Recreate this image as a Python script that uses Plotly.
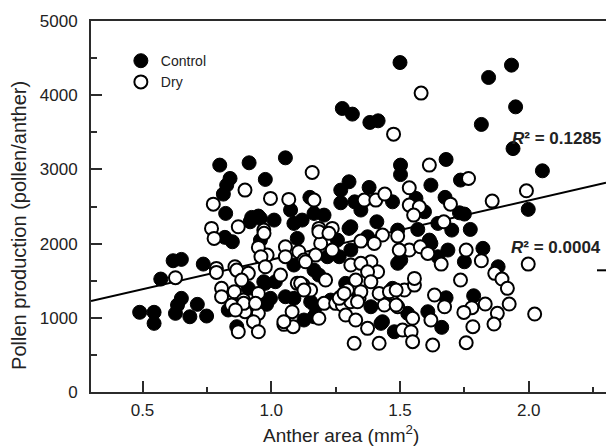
import plotly.graph_objects as go

# ---------------- data ----------------
control_x = [1.50, 1.276, 1.315, 1.383, 1.415, 1.933, 1.844, 1.949, 1.816, 1.939,
             1.679, 2.053, 1.998, 1.62, 1.735, 1.675, 1.731, 1.75, 1.647, 1.701,
             1.773, 1.62, 1.686, 1.822, 1.647, 1.75, 1.881,
             1.679, 1.786, 1.662,
             1.055, 1.502, 1.502, 0.977, 1.302, 1.270, 1.38, 1.075, 1.15, 1.270,
             1.324, 1.348, 1.471, 1.562, 1.595, 0.958, 1.011, 1.088, 1.12, 1.166,
             1.205, 1.302, 1.41, 1.491, 1.569, 0.958, 1.101, 1.374, 1.614, 1.257,
             1.309, 1.218, 1.491, 1.088,
             0.971, 0.997, 1.055, 1.088, 1.185, 1.166, 1.172, 1.231, 1.426, 1.289,
             1.387, 1.471, 1.53, 1.478, 1.608,
             0.80, 0.914, 0.84, 0.827, 0.814, 0.823, 0.924, 0.95, 0.918, 0.82,
             0.849, 0.619, 0.651, 0.736,
             0.571, 0.651, 0.713, 0.489, 0.545, 0.545, 0.628, 0.636, 0.684, 0.749,
             0.833, 0.911, 0.976, 0.982, 0.866,
             1.309, 1.166, 1.264, 1.016, 1.153, 1.127, 0.984, 1.432, 1.503]
control_y = [4440, 3821, 3745, 3633, 3655, 4405, 4239, 3843, 3606, 3280,
             3134, 2981, 2461, 2788, 2856, 2623, 2415, 2398, 2272, 2182,
             2191, 2003, 1913, 1936, 1823, 1755, 1688,
             1270, 1297, 871,
             3156, 3058, 2930, 2865, 2833, 2721, 2757, 2452, 2623, 2550,
             2563, 2452, 2563, 2609, 2429, 2340, 2317, 2272, 2317, 2407,
             2384, 2205, 2294, 2182, 2191, 2047, 2070, 2092, 2047, 2047,
             1913, 1823, 1734, 1711,
             1486, 1262, 1284, 1262, 1576, 1014, 1149, 1239, 925, 1464,
             1149, 1397, 1060, 812, 1082,
             3058, 3089, 2878, 2788, 2667, 2407, 2353, 2371, 2294, 2084,
             2025, 1769, 1787, 1724,
             1522, 1262, 1181, 1074, 1074, 925, 1060, 1172, 1014, 1024,
             1105, 1397, 1464, 1181, 880,
             2227, 1643, 1823, 1486, 1216, 970, 1239, 947, 1778]

dry_x = [1.582, 1.475,
         1.614, 1.991, 1.858, 1.766, 1.696, 1.67, 1.757, 1.816, 1.66, 1.998,
         1.868, 1.896, 1.917, 1.735, 1.634, 1.673, 1.779, 1.748, 1.831, 1.924,
         1.878, 1.865, 1.783, 2.023, 1.62, 1.627, 1.757,
         1.159, 1.536, 0.997, 1.068, 1.166, 1.361, 1.406, 1.441, 1.536, 1.575,
         1.553, 0.971, 1.185, 1.237, 1.432, 1.491, 1.348, 1.4, 1.536, 1.579,
         1.608, 1.055, 1.107, 1.192, 1.237, 1.055, 0.984, 1.127, 1.172, 1.309,
         1.387, 1.348,
         1.036, 1.101, 1.124, 1.153, 1.211, 1.081, 1.049, 1.085, 1.185, 1.205,
         1.25, 1.276, 1.309, 1.27, 1.341, 1.289, 1.328, 1.374, 1.322, 1.419,
         1.328, 1.296, 1.348, 1.439, 1.419, 1.471, 1.491, 1.517, 1.556, 1.556,
         1.549, 1.51, 1.543, 1.549,
         0.898, 0.775, 0.872, 0.768, 0.778, 0.95, 0.96, 0.787, 0.859,
         0.628, 0.787, 0.807, 0.807, 0.866, 0.911, 0.885, 0.857, 0.892, 0.846,
         0.898, 0.95, 0.95, 0.931, 0.95, 0.872,
         0.972, 1.185, 1.224, 0.977, 1.133, 1.497, 1.413, 1.374, 0.893, 0.939,
         0.861, 1.049, 1.114, 1.127, 1.264, 1.283, 1.335, 1.387, 1.459, 1.485,
         1.485]
dry_y = [4028, 3475,
         3058, 2712, 2573, 2878, 2532, 2294, 1913, 1769, 1724, 1724,
         1599, 1522, 1397, 1509, 1307, 1149, 1136, 1073, 1185, 1185,
         1060, 916, 880, 1051, 970, 633, 664,
         2959, 2752, 2609, 2596, 2586, 2586, 2586, 2667, 2519, 2496,
         2384, 2182, 2205, 2205, 2115, 2101, 2034, 2003, 1913, 1957,
         1868, 1957, 1890, 2003, 1913, 1823, 1845, 1778, 1845, 1711,
         1755, 1734,
         1576, 1464, 1441, 1374, 1509, 1082, 912, 880, 993, 1195,
         1195, 1172, 1216, 1284, 1262, 1037, 970, 858, 656, 656,
         1509, 1374, 1351, 1172, 1329, 1329, 1149, 1374, 1441, 1531,
         993, 835, 812, 678,
         2721, 2532, 2227, 2205, 2070, 1949, 1823, 1666, 1688,
         1540, 1612, 1397, 1284, 1643, 1599, 1509, 1351, 1239, 1172,
         1082, 1329, 1060, 947, 812, 812,
         2138, 2159, 2138, 1688, 1755, 1913, 1620, 1620, 1195, 1195,
         1105, 947, 1464, 1374, 1262, 1329, 1216, 1486, 1351, 1374,
         1172]

# regression fits (intercept, slope) and the x-span over which each is drawn
control_fit = (986.0, 797.5)
control_fit_span = [0.3, 2.3]
dry_fit = (1640.0, 0.0)
dry_fit_span = [2.265, 2.3]

r2_labels = ["R² = 0.1285", "R² = 0.0004"]
x_ticks = [0.5, 1.0, 1.5, 2.0]
x_tick_text = ["0.5", "1.0", "1.5", "2.0"]
y_ticks = [0, 1000, 2000, 3000, 4000, 5000]

FONT = "Liberation Sans, Arial, Helvetica, sans-serif"
AX = "#2b2b2b"

fig = go.Figure()

fig.add_trace(go.Scatter(
    x=control_fit_span,
    y=[control_fit[0] + control_fit[1] * v for v in control_fit_span],
    mode="lines", line=dict(color="black", width=2), showlegend=False, hoverinfo="skip"))
fig.add_trace(go.Scatter(
    x=dry_fit_span,
    y=[dry_fit[0] + dry_fit[1] * v for v in dry_fit_span],
    mode="lines", line=dict(color="black", width=2), showlegend=False, hoverinfo="skip"))

fig.add_trace(go.Scatter(
    x=control_x, y=control_y, mode="markers", name="Control",
    marker=dict(symbol="circle", size=14, color="black",
                line=dict(color="black", width=1))))
fig.add_trace(go.Scatter(
    x=dry_x, y=dry_y, mode="markers", name="Dry",
    marker=dict(symbol="circle", size=13, color="white",
                line=dict(color="black", width=2))))

fig.update_xaxes(
    range=[0.3, 2.3], tickmode="array", tickvals=x_ticks, ticktext=x_tick_text,
    ticks="inside", ticklen=11, tickwidth=2, tickcolor=AX,
    minor=dict(dtick=0.25, tick0=0.25, ticks="inside", ticklen=5, tickwidth=2, tickcolor=AX),
    showline=True, linecolor=AX, linewidth=2, mirror=True,
    showgrid=False, zeroline=False, ticklabelstandoff=2,
    tickfont=dict(family=FONT, size=17, color="#222"))
fig.update_yaxes(
    range=[0, 5000], tickmode="array", tickvals=y_ticks,
    ticks="inside", ticklen=11, tickwidth=2, tickcolor=AX,
    minor=dict(dtick=500, tick0=0, ticks="inside", ticklen=6, tickwidth=2, tickcolor=AX),
    showline=True, linecolor=AX, linewidth=2, mirror=False,
    showgrid=False, zeroline=False, ticklabelstandoff=8,
    tickfont=dict(family=FONT, size=17, color="#222"))

annotations = [
    dict(text="Anther area (mm<sup>2</sup>)", xref="paper", yref="paper",
         x=0.4845, y=-0.112, xanchor="center", yanchor="middle", showarrow=False,
         font=dict(family=FONT, size=19, color="#222")),
    dict(text="Pollen production (pollen/anther)", xref="paper", yref="paper",
         x=-0.14, y=0.45, xanchor="center", yanchor="middle", textangle=-90,
         showarrow=False, font=dict(family=FONT, size=20, color="#222")),
]
for lab, yy in zip(r2_labels, [0.684, 0.3905]):
    annotations.append(dict(
        text="<b><i>R</i>" + lab[1:] + "</b>", xref="paper", yref="paper",
        x=0.995, y=yy, xanchor="right", yanchor="middle", showarrow=False,
        font=dict(family=FONT, size=17, color="#222")))

fig.update_layout(
    width=606, height=446,
    margin=dict(l=91, r=0, t=21, b=54),
    paper_bgcolor="white", plot_bgcolor="white",
    showlegend=True,
    legend=dict(x=0.058, y=0.935, xanchor="left", yanchor="top",
                bgcolor="rgba(0,0,0,0)", borderwidth=0,
                font=dict(family=FONT, size=14, color="#222"),
                itemsizing="trace", tracegroupgap=0),
    annotations=annotations,
)

fig.write_html("out.html", config={"displayModeBar": False},
               post_script="document.body.style.margin='0';document.body.style.padding='0';")
